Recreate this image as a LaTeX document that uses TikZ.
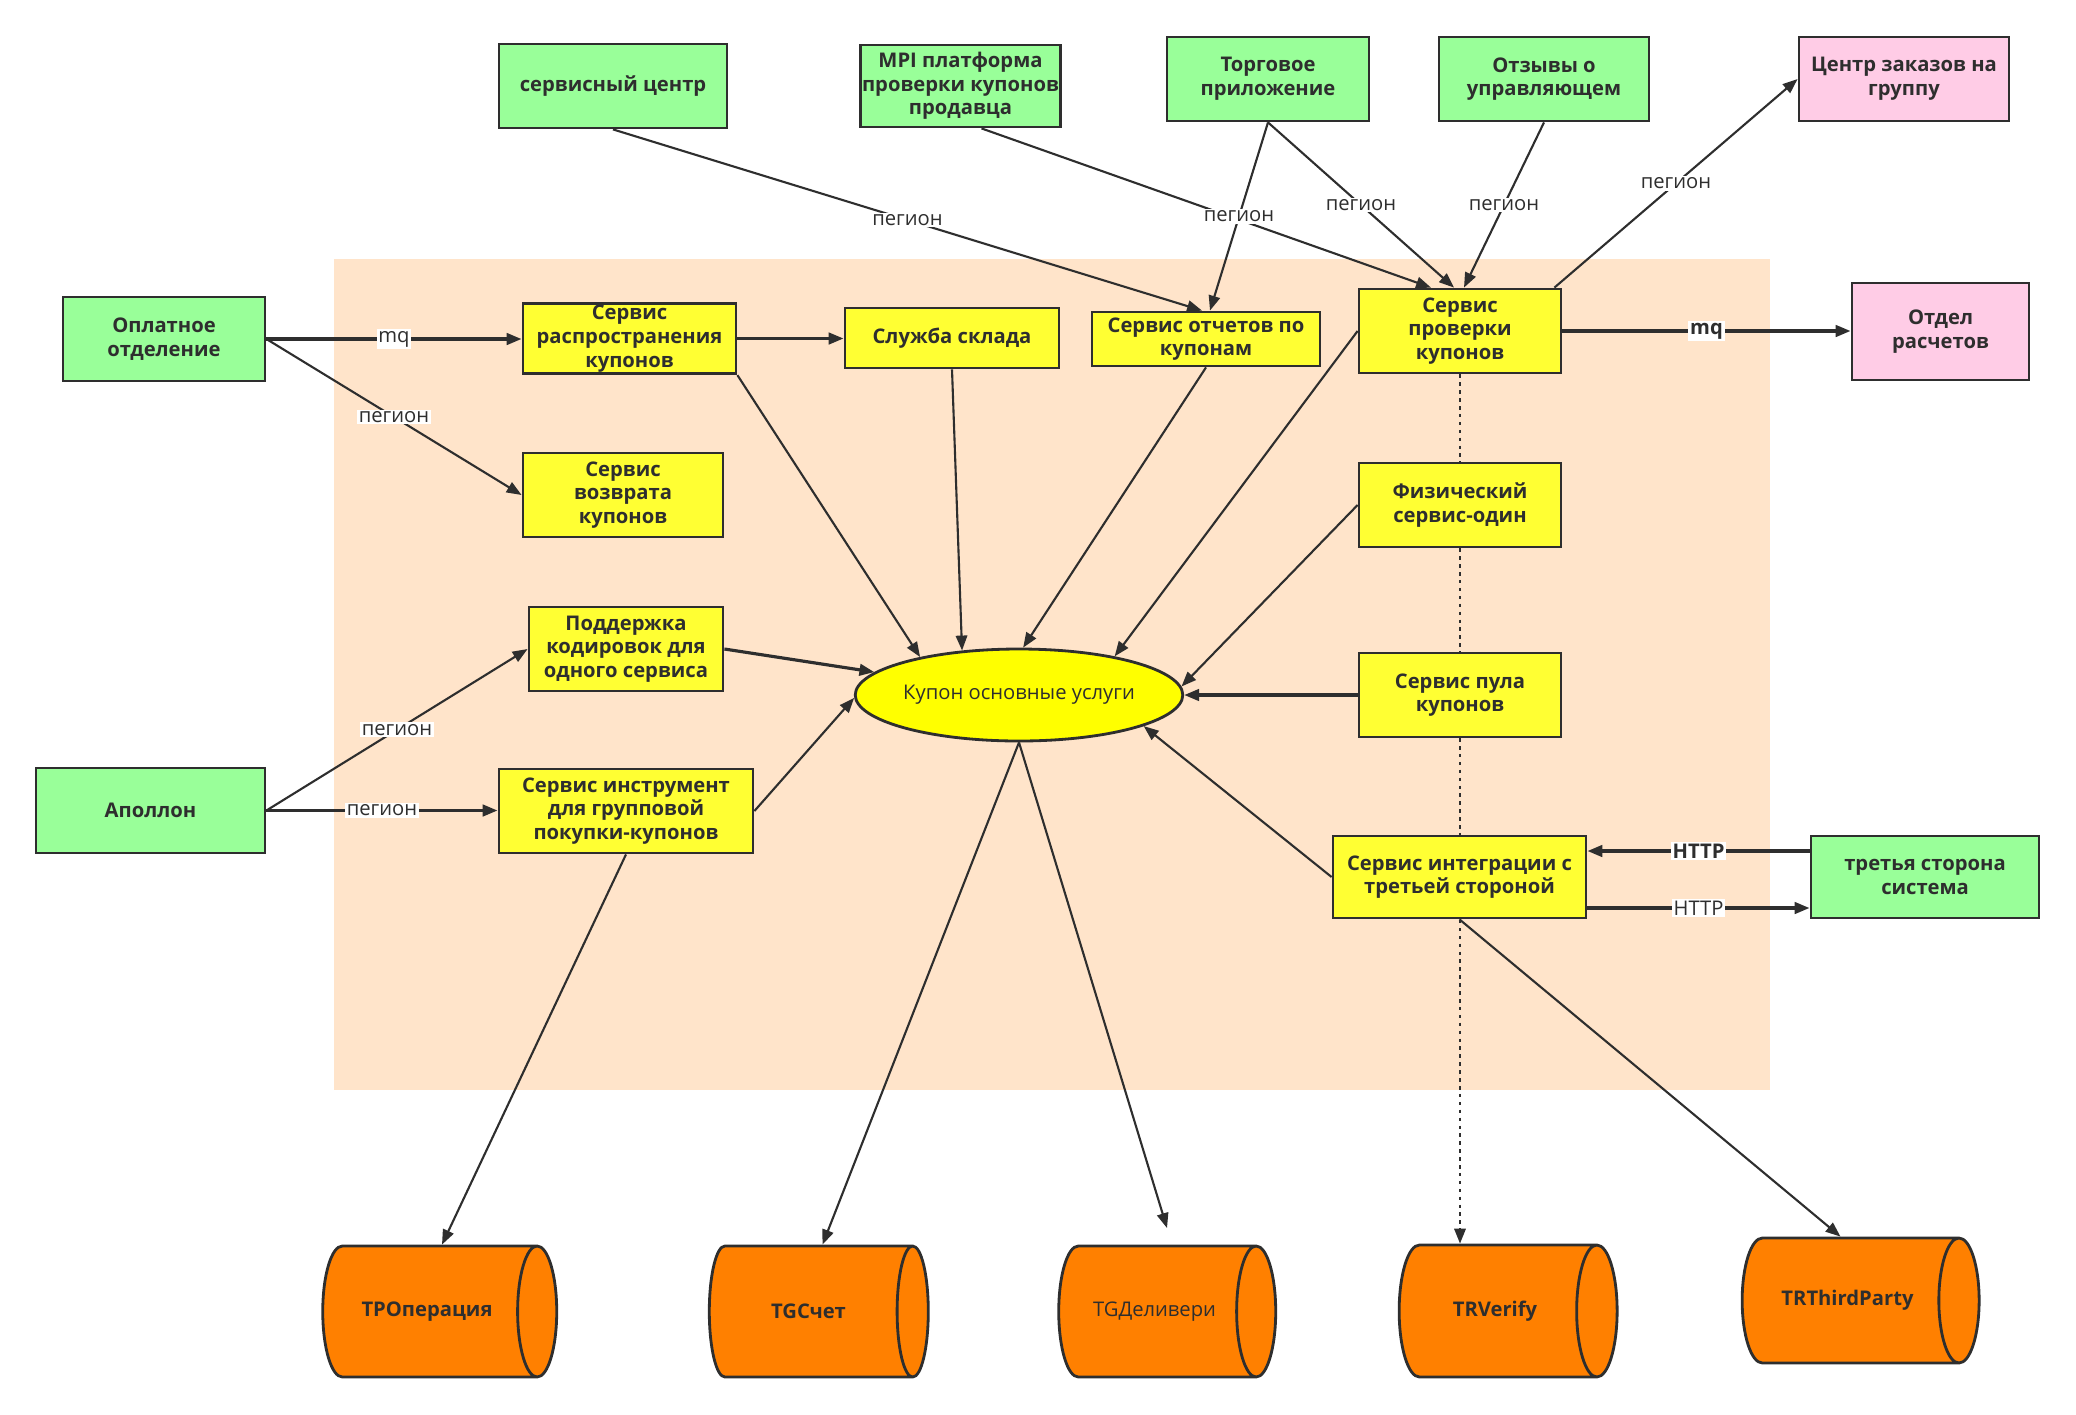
\documentclass[tikz,border=0pt]{standalone}
\usepackage{fontspec}
\setmainfont{Open Sans}
\usepackage{tikz}
\usetikzlibrary{arrows.meta,calc,shapes.geometric,backgrounds}

\definecolor{boxgreen}{HTML}{99FF99}
\definecolor{boxyellow}{HTML}{FFFF33}
\definecolor{coreyellow}{HTML}{FFFF00}
\definecolor{boxpink}{HTML}{FFCCE6}
\definecolor{dborange}{HTML}{FF8000}
\definecolor{zonepeach}{HTML}{FFE4CA}
\definecolor{edgegray}{HTML}{2E2E2E}

\begin{document}
\begin{tikzpicture}[x=0.02cm,y=-0.02cm,
  dims/.style 2 args={minimum width=#1*0.02cm,minimum height=#2*0.02cm},
  dbdims/.style 2 args={minimum height=#1*0.02cm,minimum width=#2*0.02cm},
  svc/.style={draw=edgegray,line width=1.6pt,align=center,inner sep=1pt,text=edgegray,
    font=\fontsize{11.5}{13.5}\selectfont\bfseries},
  ext/.style={svc,fill=boxgreen},
  own/.style={svc,fill=boxyellow},
  sink/.style={svc,fill=boxpink},
  db/.style={svc,cylinder,aspect=1.7,fill=dborange},
  link/.style={draw=edgegray,line width=1.2pt,-{Triangle[length=8.5pt,width=6.5pt]}},
  heavy/.style={link,line width=1.8pt},
  lbl/.style={fill=white,inner sep=1pt,text=edgegray,font=\fontsize{11.5}{13.5}\selectfont},
  lblb/.style={lbl,font=\fontsize{11.5}{13.5}\selectfont\bfseries}]
  \useasboundingbox (0,0) rectangle (2076,1414);

  % outer systems
  \node[ext,dims={228}{84}] (svccenter) at (613,86) {сервисный центр};
  \node[ext,dims={189}{82}] (mpi) at (960.5,86) {MPI платформа\\проверки купонов\\продавца};
  \node[ext,dims={202}{84}] (tradeapp) at (1268,79) {Торговое\\приложение};
  \node[ext,dims={210}{84}] (feedback) at (1544,79) {Отзывы о\\управляющем};
  \node[sink,dims={210}{84}] (grouporder) at (1904,79) {Центр заказов на\\группу};
  \node[ext,dims={202}{84}] (payment) at (164,339) {Оплатное\\отделение};
  \node[sink,dims={177}{97}] (settle) at (1940.5,331.5) {Отдел\\расчетов};
  \node[ext,dims={229}{85}] (apollo) at (150.5,810.5) {Аполлон};
  \node[ext,dims={228}{82}] (thirdsys) at (1925,877) {третья сторона\\система};

  % coupon services
  \node[own,dims={213}{69}] (distrib) at (629.5,338.5) {Сервис\\распространения\\купонов};
  \node[own,dims={214}{60}] (stock) at (952,338) {Служба склада};
  \node[own,dims={228}{54}] (report) at (1206,339) {Сервис отчетов по\\купонам};
  \node[own,dims={202}{84}] (verify) at (1460,331) {Сервис\\проверки\\купонов};
  \node[own,dims={200}{84}] (refund) at (623,495) {Сервис\\возврата\\купонов};
  \node[own,dims={194}{84}] (encoding) at (626,649) {Поддержка\\кодировок для\\одного сервиса};
  \node[own,dims={254}{84}] (grouptool) at (626,811) {Сервис инструмент\\для групповой\\покупки-купонов};
  \node[own,dims={202}{84}] (physical) at (1460,505) {Физический\\сервис-один};
  \node[own,dims={202}{84}] (pool) at (1460,695) {Сервис пула\\купонов};
  \node[own,dims={253}{82}] (thirdint) at (1459.5,877) {Сервис интеграции с\\третьей стороной};
  \node[ellipse,draw=edgegray,line width=1.6pt,fill=coreyellow,dims={272}{92},inner sep=0pt,
    text=edgegray,font=\fontsize{11.5}{13.5}\selectfont] (core) at (1019,695) {Купон основные услуги};

  % tables
  \node[db,dbdims={234}{131}] (dbop) at (427,1311.5) {TPОперация};
  \node[db,dbdims={219}{131}] (dbacc) at (808.5,1311.5) {TGСчет};
  \node[db,dbdims={217}{131},font=\fontsize{11.5}{13.5}\selectfont] (dbdeliv) at (1154.5,1311.5) {TGДеливери};
  \node[db,dbdims={218}{132}] (dbverify) at (1495,1311) {TRVerify};
  \node[db,dbdims={237}{125}] (dbthird) at (1847.5,1300.5) {TRThirdParty};

  \begin{scope}[on background layer]
    \fill[zonepeach] (334,259) rectangle (1770,1090);
    \draw[link,dash pattern=on 2pt off 2.5pt] (verify.south) -- (verify.south |- dbverify.north);
  \end{scope}

  % top links
  \draw[link] (svccenter.south) -- node[lbl] {пегион} ($(report.north)+(-4,0)$);
  \draw[link] ($(mpi.south)+(21,0)$) -- ($(verify.north)+(-29,0)$);
  \draw[link] (tradeapp.south) -- node[lbl] {пегион} ($(report.north)+(4,0)$);
  \draw[link] (tradeapp.south) -- node[lbl] {пегион} ($(verify.north)+(-6,0)$);
  \draw[link] (feedback.south) -- node[lbl] {пегион} ($(verify.north)+(4,0)$);
  \draw[link] ($(verify.north east)+(-8,0)$) -- node[lbl] {пегион} (grouporder.west);
  \draw[heavy] (verify.east) -- node[lblb] {mq} (verify.east -| settle.west);

  % left links
  \draw[heavy] (payment.east) -- node[lbl] {mq} (payment.east -| distrib.west);
  \draw[link] (payment.east) -- node[lbl] {пегион} (refund.west);
  \draw[heavy] (distrib.east) -- (distrib.east -| stock.west);
  \draw[link] (apollo.east) -- node[lbl] {пегион} (encoding.west);
  \draw[heavy] (apollo.east) -- node[lbl] {пегион} (apollo.east -| grouptool.west);

  % into the core
  \draw[link] (distrib.south east) -- (core.159);
  \draw[link] (stock.south) -- (core.142);
  \draw[link] (report.south) -- (core.85);
  \draw[link] (verify.west) -- (core.22);
  \draw[link] (physical.west) -- (core.3);
  \draw[heavy] (pool.west) -- (core.east);
  \draw[link] (thirdint.west) -- (core.-14);
  \draw[heavy] (encoding.east) -- (core.171);
  \draw[link] (grouptool.east) -- (core.181);

  % third party
  \draw[heavy] ($(thirdsys.west)+(0,-26)$) -- node[lblb] {HTTP} ($(thirdint.east)+(0,-26)$);
  \draw[heavy] ($(thirdint.east)+(0,31)$) -- node[lbl] {HTTP} ($(thirdsys.west)+(0,31)$);

  % down to tables
  \coordinate (delivend) at (1167,1228);
  \draw[link] (grouptool.south) -- ($(dbop.north)+(15,0)$);
  \draw[link] (core.south) -- ($(dbacc.north)+(14,0)$);
  \draw[link] (core.south) -- (delivend);
  \draw[link] (thirdint.south) -- ($(dbthird.north)+(-7,0)$);
\end{tikzpicture}
\end{document}
